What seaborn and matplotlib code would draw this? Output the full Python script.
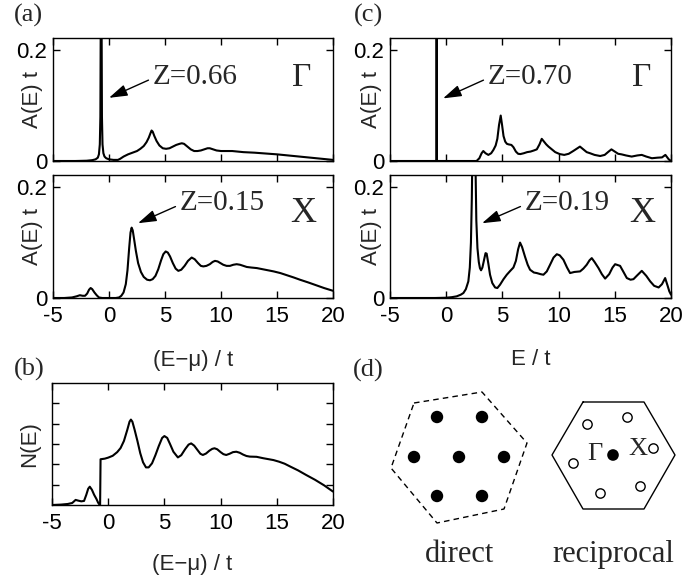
import matplotlib
matplotlib.use("Agg")
import matplotlib.pyplot as plt
import seaborn as sns
import pandas as pd

# --- data ---
X_TICKS = [-5, 0, 5, 10, 15, 20]

# (a) Gamma point, A(E) t vs (E-mu)/t
E_GAMMA_A = [-5, -3, -2, -1.5, -1.2, -1.0, -0.9, -0.82, -0.77, -0.73, -0.7, -0.67, -0.63,
             -0.58, -0.5, -0.4, -0.25, 0, 0.4, 0.8, 1.0, 1.3, 1.7, 2.1, 2.5, 2.8, 3.1, 3.35,
             3.55, 3.7, 3.8, 3.9, 4.05, 4.25, 4.5, 4.8, 5.1, 5.4, 5.7, 6.0, 6.3, 6.5, 6.7,
             7.0, 7.3, 7.6, 7.9, 8.2, 8.5, 8.8, 9.0, 9.3, 9.6, 10.0, 10.5, 11.0, 12.0, 13.0,
             14.0, 15.0, 16.0, 17.0, 18.0, 19.0, 20.0]
A_GAMMA_A = [0, 0, 0.0005, 0.0015, 0.003, 0.006, 0.012, 0.03, 0.08, 0.3, 1.2, 0.3, 0.08,
             0.03, 0.014, 0.008, 0.005, 0.003, 0.002, 0.002, 0.004, 0.008, 0.012, 0.015,
             0.018, 0.022, 0.027, 0.034, 0.042, 0.05, 0.055, 0.053, 0.045, 0.036, 0.028,
             0.023, 0.022, 0.023, 0.026, 0.029, 0.031, 0.032, 0.031, 0.026, 0.021, 0.018,
             0.018, 0.019, 0.021, 0.023, 0.023, 0.021, 0.019, 0.018, 0.018, 0.018, 0.016,
             0.015, 0.0135, 0.012, 0.01, 0.008, 0.006, 0.004, 0.002]

# (a) X point
E_X_A = [-5, -4, -3.3, -2.9, -2.6, -2.35, -2.14, -1.95, -1.78, -1.64, -1.5, -1.3, -1.1,
         -0.9, -0.6, 0, 0.6, 0.9, 1.1, 1.3, 1.5, 1.65, 1.8, 1.92, 2.02, 2.12, 2.25, 2.4,
         2.6, 2.85, 3.1, 3.4, 3.66, 3.9, 4.15, 4.4, 4.65, 4.85, 5.06, 5.25, 5.45, 5.7,
         5.95, 6.19, 6.45, 6.75, 7.05, 7.38, 7.65, 7.95, 8.2, 8.42, 8.7, 9.0, 9.25, 9.46,
         9.7, 9.95, 10.2, 10.5, 10.8, 11.1, 11.4, 11.7, 12.0, 12.3, 12.7, 13.2, 13.7,
         14.2, 14.7, 15.3, 15.9, 16.5, 17.05, 17.8, 18.5, 19.2, 20]
A_X_A = [0, 0, 0.001, 0.003, 0.005, 0.004, 0.004, 0.008, 0.015, 0.018, 0.016, 0.01, 0.005,
         0.001, 0, 0, 0, 0.001, 0.004, 0.01, 0.025, 0.05, 0.09, 0.118, 0.127, 0.122, 0.105,
         0.085, 0.063, 0.047, 0.038, 0.033, 0.032, 0.034, 0.04, 0.052, 0.068, 0.079, 0.084,
         0.082, 0.075, 0.063, 0.053, 0.049, 0.051, 0.058, 0.067, 0.073, 0.07, 0.063, 0.058,
         0.057, 0.058, 0.061, 0.065, 0.067, 0.066, 0.063, 0.06, 0.058, 0.058, 0.06, 0.061,
         0.06, 0.058, 0.056, 0.055, 0.054, 0.052, 0.05, 0.048, 0.045, 0.041, 0.037, 0.033,
         0.028, 0.023, 0.018, 0.013]

# (b) density of states N(E), arbitrary units
E_DOS = [-5, -4.2, -3.6, -3.2, -2.9, -2.7, -2.4, -2.15, -1.95, -1.78, -1.64, -1.45, -1.25,
         -1.05, -0.9, -0.76, -0.72, -0.68, -0.3, 0, 0.4, 0.8, 1.1, 1.4, 1.7, 1.9, 2.02,
         2.15, 2.35, 2.6, 2.85, 3.1, 3.36, 3.6, 3.9, 4.2, 4.5, 4.8, 5.0, 5.25, 5.5, 5.8,
         6.2, 6.5, 6.85, 7.15, 7.38, 7.65, 7.95, 8.2, 8.42, 8.7, 9.0, 9.25, 9.46, 9.7,
         10.0, 10.25, 10.5, 10.8, 11.1, 11.4, 11.7, 12.0, 12.3, 12.6, 13.2, 13.8, 14.3,
         14.7, 15.2, 15.7, 16.2, 16.9, 17.6, 18.4, 19.2, 20]
N_DOS = [0, 0.02, 0.05, 0.1, 0.25, 0.22, 0.18, 0.2, 0.5, 0.8, 0.9, 0.75, 0.5, 0.3, 0.12,
         0, 0, 2.25, 2.28, 2.33, 2.42, 2.6, 2.8, 3.15, 3.7, 4.1, 4.2, 4.1, 3.7, 3.15, 2.55,
         2.1, 1.85, 1.85, 2.05, 2.45, 2.9, 3.3, 3.39, 3.3, 3.0, 2.62, 2.34, 2.45, 2.75,
         2.97, 3.03, 2.92, 2.7, 2.52, 2.46, 2.53, 2.67, 2.76, 2.79, 2.74, 2.6, 2.5, 2.46,
         2.52, 2.6, 2.62, 2.57, 2.48, 2.41, 2.38, 2.37, 2.3, 2.25, 2.21, 2.13, 2.03, 1.89,
         1.7, 1.48, 1.24, 0.97, 0.66]

# (c) Gamma point, A(E) t vs E/t
E_GAMMA_C = [-5, -0.86, -0.85, -0.84, 2.7, 2.95, 3.15, 3.3, 3.5, 3.75, 4.0, 4.2, 4.4,
             4.55, 4.7, 4.85, 4.97, 5.1, 5.25, 5.4, 5.55, 5.8, 5.98, 6.2, 6.4, 6.6, 6.9,
             7.2, 7.5, 7.8, 8.06, 8.3, 8.5, 8.7, 8.9, 9.1, 9.4, 9.7, 10.1, 10.5, 10.9, 11.3,
             11.6, 11.9, 12.2, 12.5, 12.8, 13.2, 13.7, 14.1, 14.45, 14.7, 15.0, 15.3, 15.6,
             16.0, 16.5, 17.0, 17.4, 17.8, 18.3, 18.8, 19.2, 19.5, 19.65, 19.8, 20]
A_GAMMA_C = [0, 0, 3.0, 0, 0, 0.005, 0.014, 0.018, 0.014, 0.011, 0.014, 0.02, 0.028, 0.04,
             0.065, 0.082, 0.065, 0.045, 0.035, 0.031, 0.03, 0.029, 0.025, 0.017, 0.013,
             0.0125, 0.014, 0.016, 0.017, 0.019, 0.021, 0.03, 0.04, 0.035, 0.03, 0.026,
             0.021, 0.016, 0.0125, 0.011, 0.013, 0.018, 0.022, 0.026, 0.021, 0.016, 0.014,
             0.011, 0.009, 0.011, 0.017, 0.021, 0.017, 0.013, 0.012, 0.01, 0.008, 0.01,
             0.011, 0.008, 0.005, 0.006, 0.0065, 0.011, 0.007, 0.003, 0]

# (c) X point
E_X_C = [-5, -1, 0, 0.5, 0.93, 1.3, 1.53, 1.75, 1.97, 2.1, 2.2, 2.28, 2.35, 2.42, 2.5, 2.6,
         2.68, 2.78, 2.9, 3.0, 3.1, 3.22, 3.36, 3.5, 3.6, 3.75, 3.9, 4.1, 4.35, 4.55, 4.79,
         5.1, 5.39, 5.7, 5.98, 6.2, 6.4, 6.57, 6.75, 7.02, 7.25, 7.46, 7.8, 8.06, 8.4,
         8.65, 8.95, 9.24, 9.55, 9.84, 10.1, 10.43, 10.75, 11.02, 11.4, 11.91, 12.2, 12.5,
         12.75, 12.95, 13.2, 13.55, 13.85, 14.14, 14.5, 14.8, 15.03, 15.47, 15.8, 16.07,
         16.4, 16.66, 17.0, 17.4, 17.8, 18.15, 18.5, 18.9, 19.2, 19.48, 19.7, 19.85, 20]
A_X_C = [0, 0, 0.0005, 0.0015, 0.003, 0.006, 0.009, 0.016, 0.03, 0.055, 0.1, 0.18, 0.3,
         0.45, 0.4, 0.25, 0.14, 0.09, 0.065, 0.054, 0.05, 0.055, 0.068, 0.081, 0.08, 0.062,
         0.042, 0.027, 0.019, 0.018, 0.024, 0.034, 0.042, 0.049, 0.055, 0.067, 0.088, 0.1,
         0.092, 0.074, 0.06, 0.051, 0.046, 0.045, 0.043, 0.042, 0.048, 0.06, 0.073, 0.079,
         0.077, 0.069, 0.055, 0.045, 0.047, 0.048, 0.053, 0.06, 0.068, 0.072, 0.065, 0.054,
         0.043, 0.035, 0.043, 0.055, 0.061, 0.058, 0.046, 0.036, 0.033, 0.034, 0.041,
         0.049, 0.04, 0.03, 0.022, 0.019, 0.025, 0.036, 0.022, 0.012, 0.006]

Z_LABELS = ["Z=0.66", "Z=0.15", "Z=0.70", "Z=0.19"]

# (d) lattice sketches (figure pixel units)
DIRECT_CELL_X = [414, 482, 527, 504, 437, 391, 414]
DIRECT_CELL_Y = [403, 392, 443, 509, 523, 468, 403]
DIRECT_SITES_X = [437, 482, 414, 459, 504, 437, 482]
DIRECT_SITES_Y = [417, 417, 457, 457, 457, 496, 496]
RECIP_CELL_X = [583, 644, 675, 644, 583, 552, 583]
RECIP_CELL_Y = [402, 402, 455, 509, 509, 455, 402]
RECIP_K_X = [587, 627, 653, 573, 600, 640]
RECIP_K_Y = [424, 417, 448, 463, 493, 486]
RECIP_GAMMA_X = [613]
RECIP_GAMMA_Y = [455]

SANS = ['Liberation Sans', 'DejaVu Sans']
SERIF = ['Liberation Serif', 'DejaVu Serif']

sns.set_theme(style="ticks")
plt.rcParams.update({
    'axes.linewidth': 1.0,
    'axes.edgecolor': 'black',
    'axes.unicode_minus': False,
    'xtick.color': 'black',
    'ytick.color': 'black',
})
plt.rcParams['font.family'] = SANS

W, H = 693, 576


def box(left, top, right, bottom):
    return [left / W, 1 - bottom / H, (right - left) / W, (bottom - top) / H]


def draw_curve(ax, energy, values):
    df = pd.DataFrame({'E': energy, 'A': values})
    sns.lineplot(data=df, x='E', y='A', ax=ax, color='black', lw=1.5,
                 sort=False, estimator=None)


def style_panel(ax, show_xlabels, ylim=0.222, yticks=(0, 0.2), yticklabels=('0', '0.2')):
    ax.set_xlim(-5, 20)
    ax.set_ylim(0, ylim)
    ax.set_xticks(X_TICKS)
    ax.set_yticks(list(yticks))
    ax.set_yticklabels(list(yticklabels))
    ax.tick_params(direction='in', top=True, right=True, length=5, width=1,
                   labelsize=16)
    ax.tick_params(axis='y', pad=4)
    ax.tick_params(axis='x', pad=6, labelbottom=show_xlabels)
    ax.set_xlabel('')
    ax.set_ylabel('')


def z_note(ax, text, tip, text_pos):
    ax.annotate(text, xy=tip, xytext=text_pos, ha='left', va='center',
                fontsize=21, family=SERIF,
                arrowprops=dict(arrowstyle='-|>,head_length=0.7,head_width=0.22',
                                color='black', lw=1.0, mutation_scale=16,
                                shrinkA=1, shrinkB=0, relpos=(0, 0.45)))


fig = plt.figure(figsize=(W / 100, H / 100), dpi=100)
fig.patch.set_facecolor('white')

ax_a1 = fig.add_axes(box(53, 38, 333, 161))
ax_a2 = fig.add_axes(box(53, 175, 333, 298))
ax_c1 = fig.add_axes(box(390, 38, 671, 161))
ax_c2 = fig.add_axes(box(390, 175, 671, 298))
ax_b = fig.add_axes(box(52, 383, 333, 505))
ax_d = fig.add_axes(box(380, 380, 693, 576))

# (a)
draw_curve(ax_a1, E_GAMMA_A, A_GAMMA_A)
style_panel(ax_a1, False)
draw_curve(ax_a2, E_X_A, A_X_A)
style_panel(ax_a2, True)
z_note(ax_a1, Z_LABELS[0], (0.0, 0.114), (3.93, 0.152))
z_note(ax_a2, Z_LABELS[1], (2.59, 0.135), (6.34, 0.171))
ax_a1.text(17.23, 0.15, 'Γ', fontsize=24, family=SERIF, ha='center', va='center')
ax_a2.text(17.3, 0.153, 'X', fontsize=26, family=SERIF, ha='center', va='center')
ax_a2.set_xlabel('(E\u2212μ) / t', fontsize=16)
ax_a2.xaxis.set_label_coords(0.5, -0.42)

# (c)
draw_curve(ax_c1, E_GAMMA_C, A_GAMMA_C)
style_panel(ax_c1, False)
draw_curve(ax_c2, E_X_C, A_X_C)
style_panel(ax_c2, True)
z_note(ax_c1, Z_LABELS[2], (-0.28, 0.113), (3.72, 0.152))
z_note(ax_c2, Z_LABELS[3], (3.19, 0.135), (7.01, 0.171))
ax_c1.text(17.42, 0.15, 'Γ', fontsize=24, family=SERIF, ha='center', va='center')
ax_c2.text(17.42, 0.153, 'X', fontsize=26, family=SERIF, ha='center', va='center')
ax_c2.set_xlabel('E / t', fontsize=16)
ax_c2.xaxis.set_label_coords(0.5, -0.415)

for ax, xpos in [(ax_a1, -0.035), (ax_a2, -0.035), (ax_c1, -0.03), (ax_c2, -0.03)]:
    ax.set_ylabel('A(E) t', fontsize=16)
    ax.yaxis.set_label_coords(xpos, 0.5)

# (b)
draw_curve(ax_b, E_DOS, N_DOS)
style_panel(ax_b, True, ylim=6, yticks=(1, 2, 3, 4, 5), yticklabels=('', '', '', '', ''))
ax_b.set_xlabel('(E\u2212μ) / t', fontsize=16)
ax_b.xaxis.set_label_coords(0.5, -0.405)
ax_b.set_ylabel('N(E)', fontsize=16)
ax_b.yaxis.set_label_coords(-0.043, 0.5)

# (d)
sns.lineplot(x=DIRECT_CELL_X, y=DIRECT_CELL_Y, ax=ax_d, sort=False, estimator=None,
             color='black', lw=1.0, linestyle=(0, (4, 3)))
sns.scatterplot(x=DIRECT_SITES_X, y=DIRECT_SITES_Y, ax=ax_d, s=80, color='black',
                edgecolor='none')
sns.lineplot(x=RECIP_CELL_X, y=RECIP_CELL_Y, ax=ax_d, sort=False, estimator=None,
             color='black', lw=1.0)
sns.scatterplot(x=RECIP_K_X, y=RECIP_K_Y, ax=ax_d, s=45, color='white',
                edgecolor='black', linewidth=1.0)
sns.scatterplot(x=RECIP_GAMMA_X, y=RECIP_GAMMA_Y, ax=ax_d, s=70, color='black',
                edgecolor='none')
ax_d.text(595, 454, 'Γ', fontsize=19, family=SERIF, ha='center', va='center')
ax_d.text(638, 449, 'X', fontsize=19, family=SERIF, ha='center', va='center')
ax_d.text(459, 562, 'direct', fontsize=22, family=SERIF, ha='center', va='baseline')
ax_d.text(613, 562, 'reciprocal', fontsize=22, family=SERIF, ha='center', va='baseline')
ax_d.set_xlim(380, 693)
ax_d.set_ylim(576, 380)
ax_d.set_axis_off()

# panel letters
for label, (px, py) in zip(['(a)', '(c)', '(b)', '(d)'],
                           [(28, 15), (368, 15), (29, 369), (368, 370)]):
    fig.text(px / W, 1 - py / H, label, fontsize=19, family=SERIF,
             ha='center', va='center')

fig.savefig('out.png', dpi=100, facecolor='white')
